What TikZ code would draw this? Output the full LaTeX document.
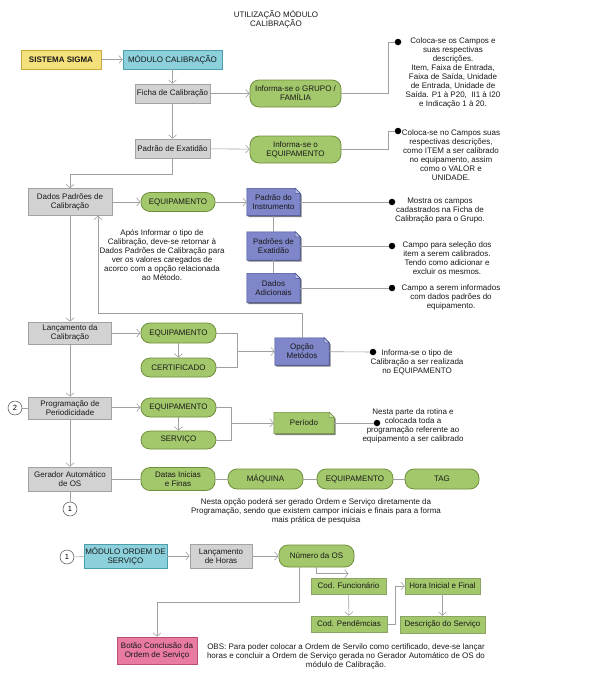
\documentclass[tikz,border=0pt]{standalone}
\usepackage{fontspec}
\setmainfont{Liberation Sans}
\usetikzlibrary{arrows.meta,calc}
\pgfdeclarelayer{bg}
\pgfsetlayers{bg,main}
\definecolor{connC}{HTML}{A0A0A0}
\definecolor{grayF}{HTML}{D2D2D2}
\definecolor{grayB}{HTML}{A2A2A2}
\definecolor{greenF}{HTML}{A3C86B}
\definecolor{greenB}{HTML}{6F8F3D}
\definecolor{blueF}{HTML}{7F87CA}
\definecolor{blueB}{HTML}{454E95}
\definecolor{cyanF}{HTML}{8BD0DB}
\definecolor{cyanB}{HTML}{4E9DAC}
\definecolor{yelF}{HTML}{F4E17C}
\definecolor{yelB}{HTML}{C9A93F}
\definecolor{pinkF}{HTML}{E97BA2}
\definecolor{pinkB}{HTML}{B94D74}
\tikzset{
  base/.style={inner sep=1pt, align=center, font=\fontsize{8}{9}\selectfont, text=black!90},
  sz/.style 2 args={minimum width=#1pt, minimum height=#2pt},
  graybox/.style={base, draw=grayB, fill=grayF, line width=0.6pt},
  cyanbox/.style={base, draw=cyanB, fill=cyanF, line width=0.6pt},
  yelbox/.style={base, draw=yelB, fill=yelF, line width=0.6pt, font=\fontsize{8}{9}\selectfont\bfseries},
  pinkbox/.style={base, draw=pinkB, fill=pinkF, line width=0.6pt},
  pill/.style={base, draw=greenB, fill=greenF, rounded corners=9pt, line width=0.8pt},
  greenbox/.style={base, draw=greenB!80, fill=greenF, line width=0.5pt},
  notebox/.style={base},
  conn/.style={draw=connC, line width=0.6pt},
  arr/.style={conn, -{Straight Barb[length=3.5pt,width=8pt]}},
  dot/.style={circle, fill=black, inner sep=0pt, minimum size=6.5pt},
  txt/.style={base},
  numc/.style={circle, draw=black!70, fill=white, inner sep=0pt, minimum size=14pt, line width=0.5pt, font=\fontsize{7.5}{9}\selectfont},
}
\newcommand\notefold[3]{%
  \begin{pgfonlayer}{bg}
    \fill[black!50] ([shift={(1.5pt,-1.5pt)}]#1.north west) -- ([shift={(-3.5pt,-1.5pt)}]#1.north east) -- ([shift={(1.5pt,-6.5pt)}]#1.north east) -- ([shift={(1.5pt,-1.5pt)}]#1.south east) -- ([shift={(1.5pt,-1.5pt)}]#1.south west) -- cycle;
    \filldraw[fill=#2, draw=#3, line width=0.6pt] (#1.north west) -- ([xshift=-5pt]#1.north east) -- ([yshift=-5pt]#1.north east) -- (#1.south east) -- (#1.south west) -- cycle;
    \filldraw[fill=#2!55!white, draw=#3, line width=0.5pt] ([xshift=-5pt]#1.north east) -- ([xshift=-5pt,yshift=-5pt]#1.north east) -- ([yshift=-5pt]#1.north east) -- cycle;
  \end{pgfonlayer}}
\begin{document}
\begin{tikzpicture}[x=1pt,y=-1pt]
\useasboundingbox (0,0) rectangle (595,683);

% title
\node[txt] (title) at (276,19.5) {UTILIZAÇÃO MÓDULO\\CALIBRAÇÃO};

% top chain
\node[yelbox, sz={80}{19}] (sigma) at (61,59.5) {SISTEMA SIGMA};
\node[cyanbox, sz={99}{19}] (modcal) at (172.5,59.5) {MÓDULO CALIBRAÇÃO};
\node[graybox, sz={75}{19}] (ficha) at (172.5,93.5) {Ficha de Calibração};
\node[pill, sz={91}{27}] (grupo) at (295.5,93.5) {Informa-se o GRUPO /\\FAMÍLIA};
\node[graybox, sz={75}{19}] (padrao) at (172.5,148.5) {Padrão de Exatidão};
\node[pill, sz={91}{27}] (equip1) at (295.5,149.5) {Informa-se o\\EQUIPAMENTO};

\node[dot] (d1) at (398,42) {};
\node[txt] (t1) at (453,73) {Coloca-se os Campos e\\suas respectivas\\descrições.\\Item, Faixa de Entrada,\\Faixa de Saída, Unidade\\de Entrada, Unidade de\\Saída. P1 à P20,~~II1 à I20\\e Indicação 1 à 20.};
\node[dot] (d2) at (398,131) {};
\node[txt] (t2) at (451,155.5) {Coloca-se no Campos suas\\respectivas descrições,\\como ITEM a ser calibrado\\no equipamento, assim\\como o VALOR e\\UNIDADE.};

\draw[arr] (sigma) -- (modcal);
\draw[arr] (modcal) -- (ficha);
\draw[arr] (ficha) -- (grupo);
\draw[arr] (ficha) -- (padrao);
\draw[arr] (padrao) -- (equip1);
\draw[conn] (grupo.east) -- ++(47,0) |- (d1);
\draw[conn] (equip1.east) -- ++(47,0) |- (d2);

% Dados Padroes
\node[graybox, sz={84}{27}] (dados) at (70,202) {Dados Padrões de\\Calibração};
\node[pill, sz={74}{19}] (equip2) at (178,202) {EQUIPAMENTO};
\node[notebox, sz={53}{27}] (pinst) at (273.5,202) {Padrão do\\Instrumento};
\notefold{pinst}{blueF}{blueB}
\node[notebox, sz={53}{28}] (pexat) at (273.5,246) {Padrões de\\Exatidão};
\notefold{pexat}{blueF}{blueB}
\node[notebox, sz={53}{29}] (dadic) at (273.5,288) {Dados\\Adicionais};
\notefold{dadic}{blueF}{blueB}

\draw[arr] (padrao.south) -- ++(0,16) -| (dados.north);
\draw[arr] (dados) -- (equip2);
\draw[arr] (equip2) -- (pinst);
\draw[conn] (pinst) -- (pexat);
\draw[conn] (pexat) -- (dadic);

\node[dot] (d3) at (392,202) {};
\node[txt] (t3) at (440,211) {Mostra os campos\\cadastrados na Ficha de\\Calibração para o Grupo.};
\node[dot] (d4) at (392,246) {};
\node[txt] (t4) at (447,258.5) {Campo para seleção dos\\item a serem calibrados.\\Tendo como adicionar e\\excluir os mesmos.};
\node[dot] (d5) at (392,288) {};
\node[txt] (t5) at (451,297.5) {Campo a serem informados\\com dados padrões do\\equipamento.};
\draw[conn] (pinst) -- (d3);
\draw[conn] (pexat) -- (d4);
\draw[conn] (dadic) -- (d5);

\node[txt] (t8) at (162,255.5) {Após Informar o tipo de\\Calibração, deve-se retornar à\\Dados Padrões de Calibração para\\ver os valores caregados de\\acorco com a opção relacionada\\ao Método.};

% Lancamento
\node[graybox, sz={83}{22}] (lanc) at (70,333) {Lançamento da\\Calibração};
\node[pill, sz={75}{20}] (equip3) at (178.5,333) {EQUIPAMENTO};
\node[pill, sz={75}{19}] (cert) at (178.5,367.5) {CERTIFICADO};
\node[notebox, sz={54}{27}] (opcao) at (302,351.5) {Opção\\Metódos};
\notefold{opcao}{blueF}{blueB}
\node[dot] (d6) at (373,352) {};
\node[txt] (t6) at (417,362) {Informa-se o tipo de\\Calibração a ser realizada\\no EQUIPAMENTO};

\draw[arr] (dados) -- (lanc);
\draw[arr] (lanc) -- (equip3);
\draw[arr] (equip3) -- (cert);
\coordinate (b1) at (237,351.5);
\draw[conn] (equip3.east) -| (b1);
\draw[conn] (cert.east) -| (b1);
\draw[arr] (b1) -- (opcao.west);
\draw[conn] (opcao) -- (d6);
\coordinate (ret) at (98,313);
\draw[arr] (opcao.north) |- (ret) -- (ret |- dados.south);

% Programacao
\node[graybox, sz={83}{22}] (prog) at (70,408) {Programação de\\Periodicidade};
\node[numc] (c2) at (15,408) {2};
\node[pill, sz={75}{19}] (equip4) at (178.5,407.5) {EQUIPAMENTO};
\node[pill, sz={75}{18}] (serv) at (178.5,440) {SERVIÇO};
\node[notebox, sz={60}{21}] (periodo) at (304,423) {Período};
\notefold{periodo}{greenF}{greenB}
\node[dot] (d7) at (377,423) {};
\node[txt] (t7) at (413,425.5) {Nesta parte da rotina e\\colocada toda a\\programação referente ao\\equipamento a ser calibrado};

\draw[arr] (lanc) -- (prog);
\draw[conn] (c2) -- (prog);
\draw[arr] (prog.east |- equip4) -- (equip4);
\draw[arr] (equip4) -- (serv);
\coordinate (b2) at (231,423);
\draw[conn] (equip4.east) -| (b2);
\draw[conn] (serv.east) -| (b2);
\draw[arr] (b2) -- (periodo.west);
\draw[conn] (periodo) -- (d7);

% Gerador
\node[graybox, sz={83}{24}] (gerador) at (70,479) {Gerador Automático\\de OS};
\node[numc] (c1a) at (70,509) {1};
\node[pill, sz={74}{23}] (datas) at (178,479) {Datas Inicias\\e Finas};
\node[pill, sz={75}{20}] (maq) at (265.5,479) {MÁQUINA};
\node[pill, sz={76}{20}] (equip5) at (355,479) {EQUIPAMENTO};
\node[pill, sz={74}{20}] (tag) at (442,479) {TAG};
\node[txt] (t9) at (316,511) {Nesta opção poderá ser gerado Ordem e Serviço diretamente da\\Programação, sendo que existem campor iniciais e finais para a forma\\mais prática de pesquisa};

\draw[arr] (prog) -- (gerador);
\draw[conn] (gerador) -- (c1a);
\draw[conn] (gerador) -- (datas);
\draw[conn] (datas) -- (maq);
\draw[conn] (maq) -- (equip5);
\draw[conn] (equip5) -- (tag);

% Ordem de servico
\node[numc] (c1b) at (67,557) {1};
\node[cyanbox, sz={83}{24}] (modos) at (125.5,556) {MÓDULO ORDEM DE\\SERVIÇO};
\node[graybox, sz={62}{24}] (lhoras) at (221,556) {Lançamento\\de Horas};
\node[pill, sz={75}{22}] (numos) at (316.5,556) {Número da OS};
\node[greenbox, sz={75}{16}] (codf) at (348.5,586) {Cod. Funcionário};
\node[greenbox, sz={76}{16}] (codp) at (349,624) {Cod. Pendêmcias};
\node[greenbox, sz={75}{16}] (hora) at (442.5,586) {Hora Inicial e Final};
\node[greenbox, sz={85}{17}] (desc) at (442.5,624.5) {Descrição do Serviço};
\node[pinkbox, sz={80}{27}] (botao) at (157,650.5) {Botão Conclusão da\\Ordem de Serviço};
\node[txt] (t10) at (346,656) {OBS: Para poder colocar a Ordem de Servilo como certificado, deve-se lançar\\horas e concluir a Ordem de Serviço gerada no Gerador Automático de OS do\\módulo de Calibração.};

\draw[conn] (c1b) -- (modos);
\draw[arr] (modos) -- (lhoras);
\draw[arr] (lhoras) -- (numos);
\draw[arr] ([xshift=-17.5pt]numos.south) -- ++(0,35) -| (botao.north);
\draw[arr] (numos.south) |- ([yshift=4pt]codf.north);
\draw[arr] (codf) -- (codp);
\draw[arr] (codp.east) -- ++(8,0) |- (hora.west);
\draw[arr] (hora) -- (desc);
\end{tikzpicture}
\end{document}
